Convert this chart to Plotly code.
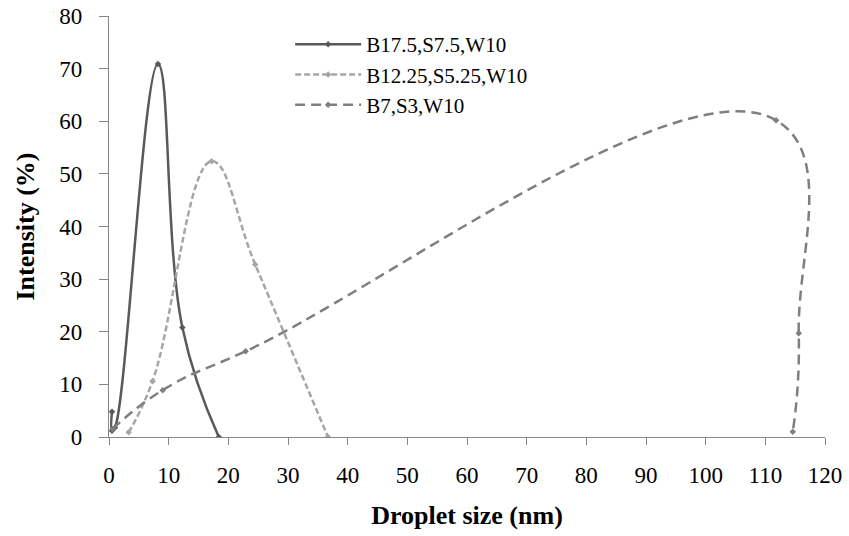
import plotly.graph_objects as go

# Data
names = ["B17.5,S7.5,W10", "B12.25,S5.25,W10", "B7,S3,W10"]
s1_x = [0.5, 0.5, 1.0, 8.2, 12.3, 18.4]
s1_y = [4.8, 1.2, 1.8, 70.9, 20.8, 0.0]
s2_x = [3.3, 7.3, 17.2, 24.5, 36.7]
s2_y = [0.9, 10.6, 52.4, 32.8, 0.0]
s3_x = [0.6, 9.0, 22.9, 111.8, 115.6, 114.6]
s3_y = [1.5, 8.9, 16.3, 60.2, 19.7, 1.0]

x_ticks = list(range(0, 121, 10))
y_ticks = list(range(0, 81, 10))

FONT = "Liberation Serif"
colors = ["#595959", "#A6A6A6", "#7F7F7F"]
dashes = ["solid", "6px,3px", "10px,6px"]
smooth = [1.2, 1.2, 1.3]

fig = go.Figure()
for nm, xs, ys, c, d, s in zip(names, [s1_x, s2_x, s3_x], [s1_y, s2_y, s3_y], colors, dashes, smooth):
    fig.add_trace(go.Scatter(
        x=xs, y=ys, name=nm, mode="lines+markers",
        line=dict(color=c, width=2.5, dash=d, shape="spline", smoothing=s),
        marker=dict(symbol="diamond", size=5, color=c),
    ))

axis_common = dict(
    showgrid=False, zeroline=False, showline=True, linecolor="#868686", linewidth=1.3,
    ticks="outside", tickcolor="#868686", tickwidth=1.3, automargin=False,
    ticklabeloverflow="allow",
    tickfont=dict(family=FONT, size=23, color="#000000"),
)
fig.update_layout(
    width=849, height=536,
    paper_bgcolor="white", plot_bgcolor="white",
    margin=dict(l=109, r=24, t=16, b=99, autoexpand=False),
    xaxis=dict(range=[0, 120], tickvals=x_ticks, ticklen=7, ticklabelstandoff=10,
               title=dict(text="<b>Droplet size (nm)</b>", font=dict(family=FONT, size=26, color="#000"), standoff=19),
               **axis_common),
    yaxis=dict(range=[0, 80], tickvals=y_ticks, ticklen=9, ticklabelstandoff=12,
               title=dict(text="<b>Intensity (%)</b>", font=dict(family=FONT, size=26, color="#000"), standoff=17),
               **axis_common),
    legend=dict(x=0.253, y=0.981, xanchor="left", yanchor="top",
                font=dict(family=FONT, size=21, color="#000"),
                bgcolor="rgba(0,0,0,0)", itemwidth=66, tracegroupgap=0),
    showlegend=True,
)
# remove the page's default 8px body margin so the figure fills the 849x536 window
fig.write_html("out.html", config={"displayModeBar": False},
               post_script="document.body.style.margin='0';")
